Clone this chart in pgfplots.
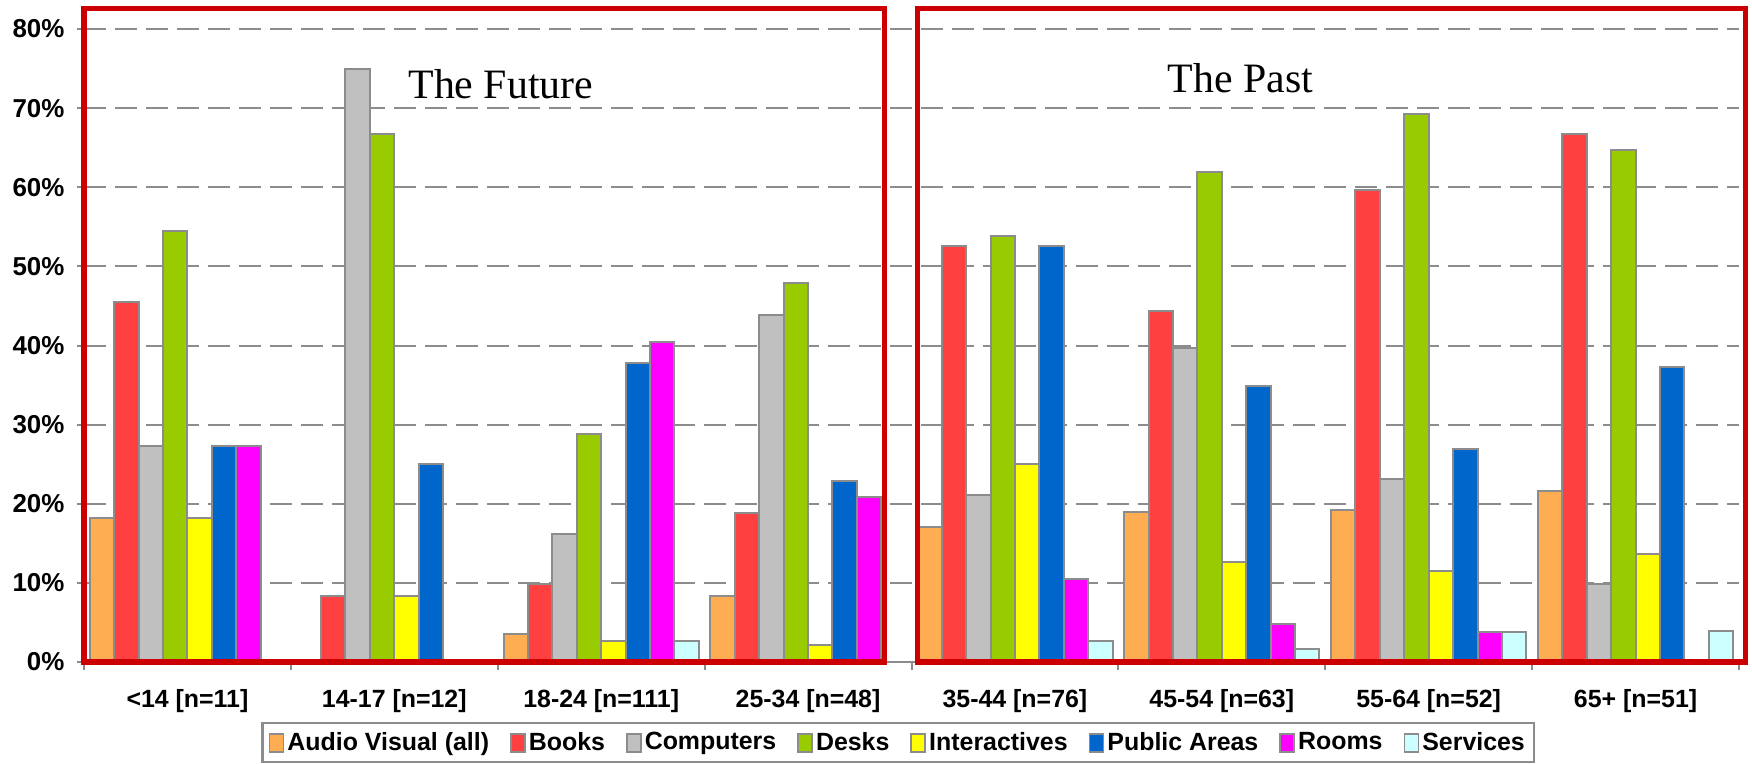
\documentclass[border=0pt]{standalone}
\usepackage{fontspec}
\setmainfont{Liberation Sans}
\newfontfamily\serifff{Liberation Serif}
\usepackage{pgfplots}
\pgfplotsset{compat=1.18}
\definecolor{cAV}{HTML}{FFAD52}
\definecolor{cBooks}{HTML}{FF4040}
\definecolor{cComp}{HTML}{C0C0C0}
\definecolor{cDesks}{HTML}{99CC00}
\definecolor{cInter}{HTML}{FFFF00}
\definecolor{cPublic}{HTML}{0066CC}
\definecolor{cRooms}{HTML}{FF00FF}
\definecolor{cServ}{HTML}{CCFFFF}
\definecolor{cEdge}{HTML}{8C8C8C}
\definecolor{cRed}{HTML}{CC0000}
\pgfplotsset{lg/.style={legend image code/.code={\draw[##1,draw=cEdge,line width=0.9bp] (0bp,-4.5bp) rectangle (7bp,4.5bp);}}}
\begin{document}
\begin{tikzpicture}
\useasboundingbox (-42bp,-51bp) rectangle (834bp,331bp);
\begin{axis}[
  at={(0,0)}, anchor=south west,
  scale only axis, width=827.5bp, height=316.5bp,
  xmin=-0.5, xmax=7.5, ymin=0, ymax=80,
  clip=false,
  ybar, bar width=0.118,
  axis x line*=bottom, axis y line*=left,
  axis line style={cEdge, line width=1bp},
  xtick={0,...,7},
  xticklabels={{<14 [n=11]},{14-17 [n=12]},{18-24 [n=111]},{25-34 [n=48]},{35-44 [n=76]},{45-54 [n=63]},{55-64 [n=52]},{65+ [n=51]}},
  minor xtick={-0.5,0.5,...,7.5},
  every major x tick/.style={draw=none},
  every minor x tick/.style={draw=cEdge, line width=1bp},
  minor tick length=4bp,
  major tick length=3.5bp,
  tick align=outside,
  ytick={0,10,...,80},
  ytick style={draw=cEdge, line width=1bp},
  yticklabel={\pgfmathprintnumber{\tick}\%},
  /pgf/number format/assume math mode=true,
  xticklabel style={font=\bfseries\fontsize{12.5}{14}\selectfont, anchor=base, yshift=-19bp},
  yticklabel style={font=\bfseries\fontsize{13}{15}\selectfont, xshift=-2.8bp},
  ymajorgrids,
  grid style={cEdge, line width=1bp, dash pattern=on 11bp off 4.5bp},
  every axis plot/.append style={draw=cEdge, line width=1bp},
  legend columns=8,
  legend style={at={(0.492,-0.0948)}, anchor=north, draw=cEdge, line width=1.2bp,
    font=\bfseries\fontsize{12.5}{14}\selectfont, inner sep=3bp,
    nodes={inner sep=1.5bp},
    /tikz/every even column/.append style={column sep=9bp}},
]
\addplot[fill=cAV, lg, bar shift=-0.413] coordinates {(0,18.2) (2,3.6) (3,8.3) (4,17.1) (5,19.0) (6,19.2) (7,21.6)};
\addplot[fill=cBooks, lg, bar shift=-0.295] coordinates {(0,45.5) (1,8.3) (2,9.9) (3,18.8) (4,52.6) (5,44.4) (6,59.6) (7,66.7)};
\addplot[fill=cComp, lg, bar shift=-0.177] coordinates {(0,27.3) (1,75.0) (2,16.2) (3,43.8) (4,21.1) (5,39.7) (6,23.1) (7,9.8)};
\addplot[fill=cDesks, lg, bar shift=-0.059] coordinates {(0,54.5) (1,66.7) (2,28.8) (3,47.9) (4,53.9) (5,61.9) (6,69.2) (7,64.7)};
\addplot[fill=cInter, lg, bar shift=0.059] coordinates {(0,18.2) (1,8.3) (2,2.7) (3,2.1) (4,25.0) (5,12.7) (6,11.5) (7,13.7)};
\addplot[fill=cPublic, lg, bar shift=0.177] coordinates {(0,27.3) (1,25.0) (2,37.8) (3,22.9) (4,52.6) (5,34.9) (6,26.9) (7,37.3)};
\addplot[fill=cRooms, lg, bar shift=0.295] coordinates {(0,27.3) (2,40.5) (3,20.8) (4,10.5) (5,4.8) (6,3.8)};
\addplot[fill=cServ, lg, bar shift=0.413] coordinates {(2,2.7) (4,2.6) (5,1.6) (6,3.8) (7,3.9)};
\legend{Audio Visual (all), Books, Computers, Desks, Interactives, Public Areas, Rooms, Services}
\draw[cRed, line width=2.7bp] (axis cs:-0.5,0) rectangle (axis cs:3.37,82.6);
\draw[cRed, line width=2.7bp] (axis cs:3.53,0) rectangle (axis cs:7.53,82.6);
\node[font=\serifff\fontsize{21}{24}\selectfont, anchor=base] at (axis cs:1.515,71.2) {The Future};
\node[font=\serifff\fontsize{21}{24}\selectfont, anchor=base] at (axis cs:5.09,72.0) {The Past};
\end{axis}
\end{tikzpicture}
\end{document}
